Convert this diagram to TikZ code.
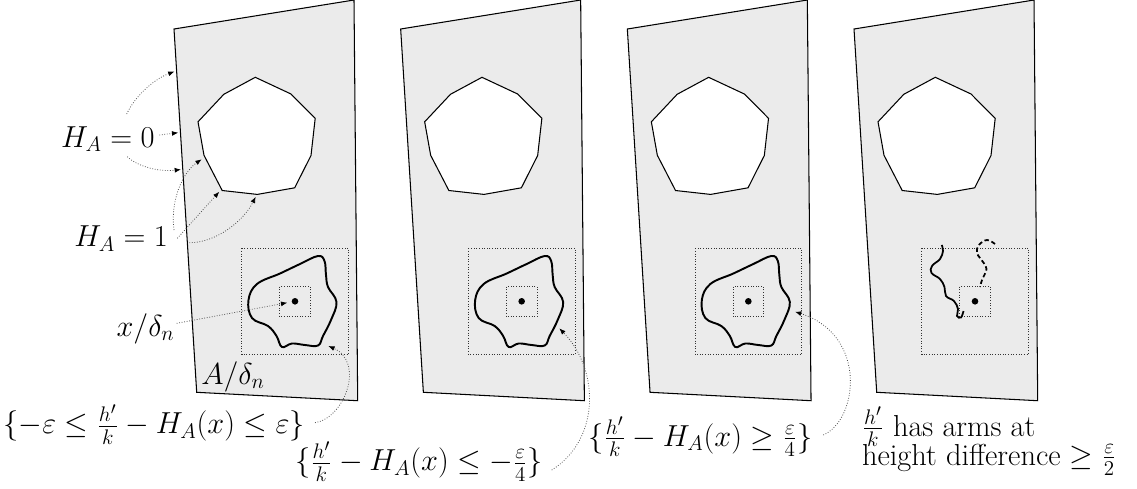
\documentclass[tikz,border=0pt]{standalone}
\usetikzlibrary{arrows.meta}
\definecolor{panelgray}{RGB}{235,235,235}
\begin{document}
\begin{tikzpicture}[x=0.02cm,y=-0.02cm,
  panel/.style={draw=black,line width=0.6pt,fill=panelgray},
  hole/.style={draw=black,line width=0.6pt,fill=white},
  dotbox/.style={draw=black!80,line width=0.5pt,densely dotted},
  blob/.style={draw=black,line width=1.1pt},
  lbl/.style={font=\LARGE,inner sep=0pt},
  ann/.style={draw=black!70,line width=0.45pt,densely dotted,-{Latex[length=3.6pt,width=2.8pt,black]}}]
\useasboundingbox (0,0) rectangle (1137,488);

\foreach \i in {0,1,2,3}{
  \begin{scope}[shift={(226.67*\i,0)}]
    \draw[panel] (174,29)--(354,0)--(357.7,400.7)--(196.7,392.3)--cycle;
    \draw[hole] (255.3,77.3)--(291,94)--(315.2,118.3)--(311,155.5)--(294.7,187.8)--(257.3,194.4)--(222.2,190.5)--(204,155.3)--(198,121.8)--(223.8,94.3)--cycle;
    \draw[dotbox] (241.7,248.3) rectangle (348.3,354.3);
    \draw[dotbox] (279.7,286.7) rectangle (310.3,316.7);
    \fill (295,301.3) circle[radius=0.066cm];
  \end{scope}
}
\foreach \i in {0,1,2}{
  \draw[blob,shift={(226.67*\i,0)}] plot[smooth cycle,tension=0.65] coordinates {
    (248.5,300) (257,284) (280,273.5) (300,264) (318,256) (324.5,261) (326,275) (328,287) (336.5,302)
    (331,320) (323,336) (318,345.5) (305,345) (292,343.5) (282,347) (276.5,336) (268,326) (252,318)};
}
\draw[blob,line width=1pt] plot[smooth,tension=0.65] coordinates {(941.7,245) (943,251) (940,259) (932,266) (931.5,273) (940,279) (944.5,287) (946,296) (954,301) (958,309) (957,316) (961,317.5) (963.5,311)};
\draw[blob,line width=1pt,dash pattern=on 2.5pt off 1.6pt] plot[smooth,tension=0.65] coordinates {(995,244) (987,240) (979,245) (977,253) (983,262) (986.5,269) (982,280) (980,287)};

% labels
\node[lbl,anchor=base east] (h0) at (155,147) {$H_A=0$};
\node[lbl,anchor=base east] (h1) at (168.3,246.5) {$H_A=1$};
\node[lbl,anchor=base east] (xd) at (175,336) {$x/\delta_n$};
\node[lbl,anchor=base west] (ad) at (201,384) {$A/\delta_n$};
\node[lbl,anchor=base west] (l1) at (3.3,433.6) {$\{-\varepsilon\leq\frac{h'}{k}-H_A(x)\leq\varepsilon\}$};
\node[lbl,anchor=base west] (l2) at (295,470.6) {$\{\frac{h'}{k}-H_A(x)\leq-\frac{\varepsilon}{4}\}$};
\node[lbl,anchor=base west] (l3) at (588.3,446) {$\{\frac{h'}{k}-H_A(x)\geq\frac{\varepsilon}{4}\}$};
\node[lbl,anchor=base west] (l4a) at (861.7,436) {$\frac{h'}{k}$ has arms at};
\node[lbl,anchor=base west] (l4b) at (861.7,465) {height difference $\geq\frac{\varepsilon}{2}$};

% connector end points
\coordinate (s01) at (126.7,114);   \coordinate (e01) at (174.5,71.5);
\coordinate (s02) at (159.3,135);   \coordinate (e02) at (178.3,132.7);
\coordinate (s03) at (127.3,156.7); \coordinate (e03) at (181,169.5);
\coordinate (s11) at (174,230);     \coordinate (e11) at (201.7,159.3);
\coordinate (s12) at (177.3,238.3); \coordinate (e12) at (219.3,191.7);
\coordinate (s13) at (189.3,242.7); \coordinate (e13) at (255.7,196.7);
\coordinate (sx) at (176.7,323.3);  \coordinate (ex) at (287.3,302.7);
\coordinate (sl1) at (315,422.7);   \coordinate (el1) at (328.3,346);
\coordinate (sl2) at (551.7,470);   \coordinate (el2) at (559.3,328.3);
\coordinate (sl3) at (823.3,435);   \coordinate (el3) at (795,311.7);

\draw[ann] (s01) .. controls (134,98) and (152,80) .. (e01);
\draw[ann] (s02) -- (e02);
\draw[ann] (s03) .. controls (138,167) and (160,172) .. (e03);
\draw[ann] (s11) .. controls (170,200) and (183,172) .. (e11);
\draw[ann] (s12) -- (e12);
\draw[ann] (s13) .. controls (215,243) and (243,222) .. (e13);
\draw[ann] (sx) -- (ex);
\draw[ann] (sl1) .. controls (345,418) and (365,362) .. (el1);
\draw[ann] (sl2) .. controls (600,440) and (600,370) .. (el2);
\draw[ann] (sl3) .. controls (858,420) and (868,335) .. (el3);
\end{tikzpicture}
\end{document}
